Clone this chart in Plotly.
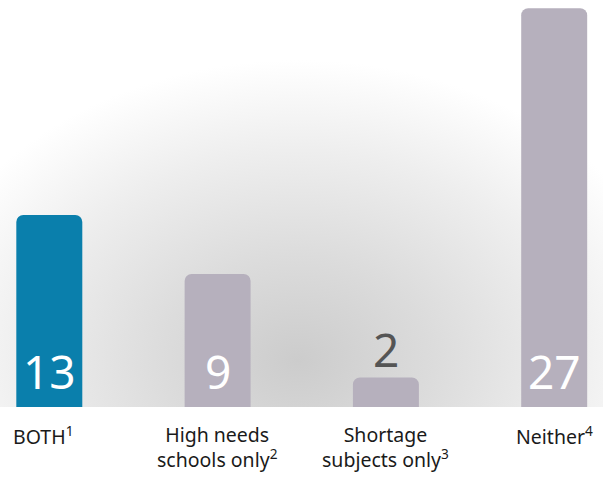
import base64
import plotly.graph_objects as go

categories = ["BOTH", "High needs schools only", "Shortage subjects only", "Neither"]
tick_labels = ["BOTH<sup>1</sup>", "High needs<br>schools only<sup>2</sup>",
               "Shortage<br>subjects only<sup>3</sup>", "Neither<sup>4</sup>"]
values = [13, 9, 2, 27]
bar_colors = ["#0a7fac", "#b6b0bd", "#b6b0bd", "#b6b0bd"]

FONT = "Noto Sans"

# soft grey glow behind the bars
svg = """<svg xmlns='http://www.w3.org/2000/svg' width='603' height='407' viewBox='0 0 603 407' preserveAspectRatio='none'>
<defs><radialGradient id='g' gradientUnits='userSpaceOnUse' cx='298' cy='360' r='300'
 gradientTransform='translate(298 360) scale(1.3 1) translate(-298 -360)'>
<stop offset='0' stop-color='#cccccc'/><stop offset='0.35' stop-color='#dcdcdc'/>
<stop offset='0.7' stop-color='#eeeeee'/><stop offset='1' stop-color='#ffffff'/>
</radialGradient></defs><rect width='603' height='407' fill='url(#g)'/></svg>"""
glow = "data:image/svg+xml;base64," + base64.b64encode(svg.encode()).decode()

fig = go.Figure(go.Bar(
    x=categories, y=values, marker=dict(color=bar_colors, line=dict(width=0)),
    hoverinfo="skip",
))

annotations = []
for i, (c, v) in enumerate(zip(categories, values)):
    inside = v > 4
    annotations.append(dict(
        x=c, y=0 if inside else v, text=str(v), showarrow=False,
        yanchor="bottom", yshift=3 if inside else -5,
        font=dict(family=FONT, size=46, color="white" if inside else "#555555"),
    ))
    annotations.append(dict(
        x=c, y=0, text=tick_labels[i], showarrow=False, yanchor="top", yshift=-12,
        xanchor="left" if i == 0 else "center", xshift=-38 if i == 0 else 0,
        align="left" if i == 0 else "center",
        font=dict(family=FONT, size=19.5, color="#1a1a1a"),
    ))

fig.update_layout(
    width=603, height=479,
    margin=dict(l=0, r=0, t=0, b=72),
    paper_bgcolor="white", plot_bgcolor="rgba(0,0,0,0)",
    bargap=0.608, barcornerradius=7,
    showlegend=False,
    xaxis=dict(type="category", range=[-0.293, 3.290], visible=False),
    yaxis=dict(range=[0, 27.55], visible=False),
    annotations=annotations,
    images=[dict(source=glow, xref="paper", yref="paper", x=0, y=1, sizex=1, sizey=1,
                 xanchor="left", yanchor="top", sizing="stretch", layer="below")],
)

fig.write_html("out.html", config={"displayModeBar": False},
               post_script="document.body.style.margin='0';")
